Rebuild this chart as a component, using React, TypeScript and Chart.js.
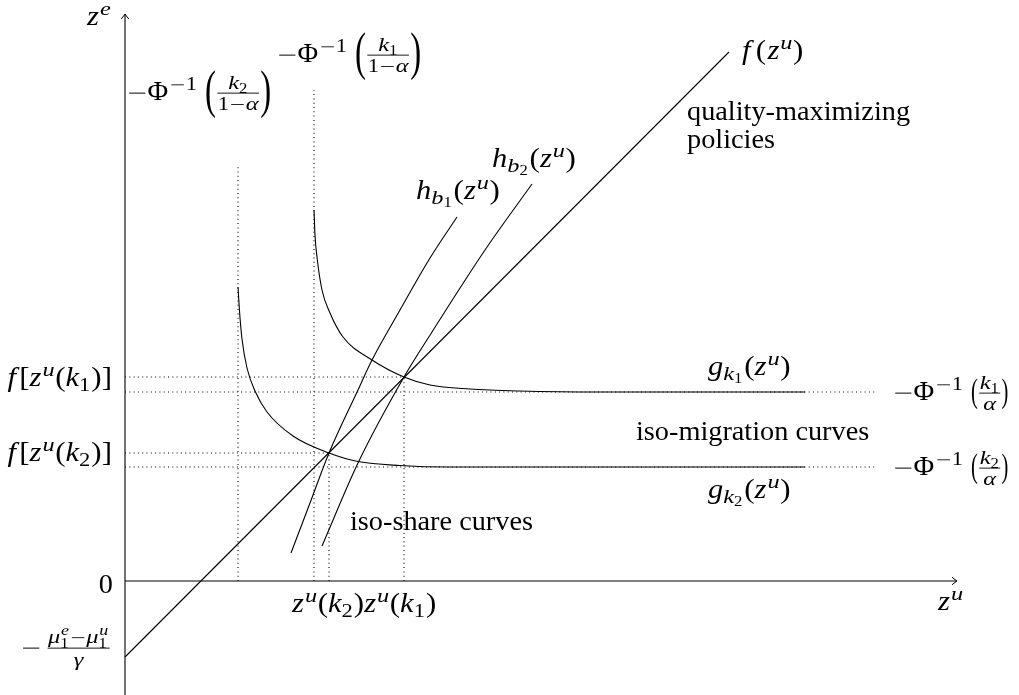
import React, { useEffect, useRef } from 'react';
import { Chart, registerables } from 'chart.js';
Chart.register(...registerables);

// ---------- data (abstract units) ----------
const X_MIN = -12.5, X_MAX = 89.4, Y_MIN = -11.4, Y_MAX = 58.1;

const xAxisX = [0, 83.2];
const xAxisY = [0, 0];
const yAxisX = [0, 0];
const yAxisY = [-11.4, 56.7];

const fX = [0, 60.4];
const fY = [-7.6, 52.9];

const gK1X = [18.9, 19.0, 19.2, 19.7, 20.5, 21.8, 24.7, 27.9, 30.5, 34.5, 39.5, 47.5, 68.0];
const gK1Y = [37.1, 34.6, 32.4, 29.1, 26.8, 24.4, 22.1, 20.4, 19.6, 19.2, 19.0, 18.9, 18.9];

const gK2X = [11.3, 11.45, 11.7, 12.2, 13.0, 14.2, 16.8, 20.4, 23.3, 27.5, 32.5, 40.0, 68.0];
const gK2Y = [29.4, 27.0, 24.2, 21.3, 19.0, 16.9, 14.5, 12.8, 11.95, 11.55, 11.4, 11.4, 11.4];

const hB1X = [16.6, 18.5, 20.4, 23.3, 24.7, 27.5, 30.5, 33.2];
const hB1Y = [2.8, 7.8, 12.8, 19.1, 22.1, 27.1, 32.3, 36.4];

const hB2X = [19.7, 23.3, 27.9, 30.7, 36.0, 40.7];
const hB2Y = [3.5, 11.8, 20.4, 24.9, 33.1, 39.7];

// dotted guide lines: [x1, y1, x2, y2]
const guideH1 = [0, 20.4, 27.9, 20.4];
const guideH2 = [0, 18.9, 75.0, 18.9];
const guideH3 = [0, 12.8, 20.4, 12.8];
const guideH4 = [0, 11.4, 75.0, 11.4];
const guideV1 = [11.3, 0, 11.3, 41.6];
const guideV2 = [18.9, 0, 18.9, 49.1];
const guideV3 = [20.4, 0, 20.4, 12.8];
const guideV4 = [27.9, 0, 27.9, 20.4];

// ---------- math text rendering ----------
const FONT = '"Liberation Serif", "DejaVu Serif", serif';
const S = 26.5;
const AXIS = 0.26;
const SCRIPT = 0.74;

type MNode =
  | { k: 't'; s: string; it?: boolean }
  | { k: 'sup'; n: MNode[] }
  | { k: 'sub'; n: MNode[] }
  | { k: 'ss'; p: MNode[]; b: MNode[] }
  | { k: 'frac'; a: MNode[]; b: MNode[]; nu: number; dd: number }
  | { k: 'par'; s: string; h: number }
  | { k: 'minus' }
  | { k: 'sp'; w: number };

const t = (s: string): MNode => ({ k: 't', s });
const i = (s: string): MNode => ({ k: 't', s, it: true });
const sup = (...n: MNode[]): MNode => ({ k: 'sup', n });
const sub = (...n: MNode[]): MNode => ({ k: 'sub', n });
const ss = (p: MNode[], b: MNode[]): MNode => ({ k: 'ss', p, b });
const frac = (a: MNode[], b: MNode[], nu = 0.15, dd = 0.62): MNode => ({ k: 'frac', a, b, nu, dd });
const par = (s: string, h: number): MNode => ({ k: 'par', s, h });
const minus = (): MNode => ({ k: 'minus' });
const sp = (w: number): MNode => ({ k: 'sp', w });

function stretchFor(s: string, it: boolean | undefined, size: number) {
  let st = it ? 1.15 : /^[()\[\]]+$/.test(s) ? 1.17 : 1.067;
  if (size < S * 0.9) st *= 1.08;
  return st;
}

function run(ctx: CanvasRenderingContext2D, nodes: MNode[], size: number, x: number, y: number, draw: boolean): number {
  let cx = x;
  for (const n of nodes) {
    if (n.k === 't') {
      ctx.font = `${n.it ? 'italic ' : ''}${size}px ${FONT}`;
      const st = stretchFor(n.s, n.it, size);
      const w = ctx.measureText(n.s).width * st;
      if (draw) {
        ctx.save();
        ctx.translate(cx, y);
        ctx.scale(st, 1);
        ctx.fillText(n.s, 0, 0);
        ctx.restore();
      }
      cx += w;
    } else if (n.k === 'sup') {
      cx += run(ctx, n.n, size * SCRIPT, cx + size * 0.04, y - size * 0.38, draw) + size * 0.06;
    } else if (n.k === 'sub') {
      cx += run(ctx, n.n, size * SCRIPT, cx, y + size * 0.18, draw) + size * 0.04;
    } else if (n.k === 'ss') {
      const w1 = run(ctx, n.p, size * SCRIPT, cx + size * 0.04, y - size * 0.38, draw) + size * 0.04;
      const w2 = run(ctx, n.b, size * SCRIPT, cx, y + size * 0.25, draw);
      cx += Math.max(w1, w2) + size * 0.04;
    } else if (n.k === 'frac') {
      const fs = size * SCRIPT;
      const wa = run(ctx, n.a, fs, 0, 0, false);
      const wb = run(ctx, n.b, fs, 0, 0, false);
      const pad = size * 0.05;
      const inner = Math.max(wa, wb) + size * 0.04;
      const W = inner + 2 * pad;
      const bar = y - size * AXIS;
      if (draw) {
        run(ctx, n.a, fs, cx + pad + (inner - wa) / 2, bar - size * n.nu, true);
        run(ctx, n.b, fs, cx + pad + (inner - wb) / 2, bar + size * n.dd, true);
        ctx.fillRect(cx + pad, bar - 0.45, inner, 0.9);
      }
      cx += W;
    } else if (n.k === 'par') {
      const F = size * n.h;
      ctx.font = `${F}px ${FONT}`;
      const sx = 0.62;
      const w = ctx.measureText(n.s).width * sx;
      if (draw) {
        ctx.save();
        ctx.translate(cx, y - size * AXIS + 0.255 * F);
        ctx.scale(sx, 1);
        ctx.fillText(n.s, 0, 0);
        ctx.restore();
      }
      cx += w;
    } else if (n.k === 'minus') {
      const small = size < S * 0.9;
      const w = size * (small ? 0.84 : 0.778);
      const side = size * (small ? 0.1 : 0.083);
      if (draw) {
        const th = Math.max(0.85, size * 0.037);
        ctx.fillRect(cx + side, y - size * AXIS - th / 2, w - 2 * side, th);
      }
      cx += w;
    } else if (n.k === 'sp') {
      cx += n.w * size;
    }
  }
  return cx - x;
}

const zu = (): MNode[] => [i('z'), sup(i('u'))];
const phiInv = (k: string, den: MNode[], h: number): MNode[] => [
  minus(), t('Φ'), sup(minus(), t('1')), sp(0.28), par('(', h), frac([i('k'), sub(t(k))], den), par(')', h),
];

type Label = { x: number; y: number; nodes: MNode[]; align?: 'left' | 'right' };

const LABELS: Label[] = [
  { x: -3.8, y: 55.6, nodes: [i('z'), sup(i('e'))] },
  { x: 81.3, y: -2.9, nodes: zu() },
  { x: -1.2, y: -1.2, nodes: [t('0')], align: 'right' },
  {
    x: -1.4, y: -7.4, align: 'right',
    nodes: [minus(), sp(0.18), frac([i('μ'), ss([i('e')], [t('1')]), minus(), i('μ'), ss([i('u')], [t('1')])], [i('γ')], 0.2, 0.66)],
  },
  { x: -1.3, y: 19.5, align: 'right', nodes: [i('f'), sp(0.12), t('['), ...zu(), t('('), i('k'), sub(t('1')), t(')]')] },
  { x: -1.3, y: 12.0, align: 'right', nodes: [i('f'), sp(0.12), t('['), ...zu(), t('('), i('k'), sub(t('2')), t(')]')] },
  { x: 0.2, y: 48.1, nodes: phiInv('2', [t('1'), minus(), i('α')], 2.0) },
  { x: 15.2, y: 51.9, nodes: phiInv('1', [t('1'), minus(), i('α')], 2.0) },
  { x: 61.7, y: 52.2, nodes: [i('f'), sp(0.2), t('('), sp(0.05), ...zu(), t(')')] },
  { x: 56.2, y: 46.1, nodes: [t('quality-maximizing')] },
  { x: 56.2, y: 43.3, nodes: [t('policies')] },
  { x: 36.7, y: 41.4, nodes: [i('h'), sub(i('b'), sub(t('2'))), t('('), ...zu(), t(')')] },
  { x: 29.1, y: 38.2, nodes: [i('h'), sub(i('b'), sub(t('1'))), t('('), ...zu(), t(')')] },
  { x: 58.3, y: 20.6, nodes: [i('g'), sub(i('k'), sub(t('1'))), t('('), ...zu(), t(')')] },
  { x: 51.1, y: 14.1, nodes: [t('iso-migration curves')] },
  { x: 58.3, y: 8.3, nodes: [i('g'), sub(i('k'), sub(t('2'))), t('('), ...zu(), t(')')] },
  { x: 76.8, y: 18.1, nodes: phiInv('1', [i('α')], 1.25) },
  { x: 76.8, y: 10.6, nodes: phiInv('2', [i('α')], 1.25) },
  {
    x: 16.7, y: -3.1,
    nodes: [...zu(), t('('), i('k'), sub(t('2')), t(')'), ...zu(), t('('), i('k'), sub(t('1')), t(')')],
  },
  { x: 22.5, y: 5.1, nodes: [t('iso-share curves')] },
];

const pts = (xs: number[], ys: number[]) => xs.map((x, k) => ({ x, y: ys[k] }));
const seg = (g: number[]) => [{ x: g[0], y: g[1] }, { x: g[2], y: g[3] }];

const overlayPlugin = {
  id: 'overlay',
  afterDatasetsDraw(chart: any) {
    const ctx: CanvasRenderingContext2D = chart.ctx;
    const xs = chart.scales.x;
    const ys = chart.scales.y;
    ctx.save();
    ctx.strokeStyle = '#000';
    ctx.lineWidth = 1;
    const arrow = (X: number, Y: number, dir: 'r' | 'u') => {
      const px = xs.getPixelForValue(X);
      const py = ys.getPixelForValue(Y);
      ctx.beginPath();
      if (dir === 'r') {
        ctx.moveTo(px - 5, py - 3.8);
        ctx.quadraticCurveTo(px - 1.5, py - 0.8, px, py);
        ctx.quadraticCurveTo(px - 1.5, py + 0.8, px - 5, py + 3.8);
      } else {
        ctx.moveTo(px - 3.8, py + 5);
        ctx.quadraticCurveTo(px - 0.8, py + 1.5, px, py);
        ctx.quadraticCurveTo(px + 0.8, py + 1.5, px + 3.8, py + 5);
      }
      ctx.stroke();
    };
    arrow(xAxisX[1], xAxisY[1], 'r');
    arrow(yAxisX[1], yAxisY[1], 'u');
    ctx.fillStyle = '#000';
    ctx.textBaseline = 'alphabetic';
    ctx.textAlign = 'left';
    for (const L of LABELS) {
      let px = xs.getPixelForValue(L.x);
      const py = ys.getPixelForValue(L.y);
      if (L.align === 'right') px -= run(ctx, L.nodes, S, 0, 0, false);
      run(ctx, L.nodes, S, px, py, true);
    }
    ctx.restore();
  },
};

export default function App() {
  const ref = useRef<HTMLCanvasElement>(null);
  useEffect(() => {
    const canvas = ref.current!;
    const solid = (data: any[], curved = false) => ({
      data,
      borderColor: '#000',
      borderWidth: 1.1,
      pointRadius: 0,
      fill: false,
      showLine: true,
      cubicInterpolationMode: curved ? 'monotone' : 'default',
      tension: 0,
    });
    const dotted = (data: any[]) => ({
      data,
      borderColor: '#000',
      borderWidth: 1.1,
      borderDash: [1, 3.3],
      pointRadius: 0,
      fill: false,
      showLine: true,
      tension: 0,
    });
    const chart = new Chart(canvas, {
      type: 'scatter',
      data: {
        datasets: [
          dotted(seg(guideH1)),
          dotted(seg(guideH2)),
          dotted(seg(guideH3)),
          dotted(seg(guideH4)),
          dotted(seg(guideV1)),
          dotted(seg(guideV2)),
          dotted(seg(guideV3)),
          dotted(seg(guideV4)),
          solid(pts(xAxisX, xAxisY)),
          solid(pts(yAxisX, yAxisY)),
          solid(pts(fX, fY)),
          solid(pts(gK1X, gK1Y), true),
          solid(pts(gK2X, gK2Y), true),
          solid(pts(hB1X, hB1Y), true),
          solid(pts(hB2X, hB2Y), true),
        ] as any,
      },
      options: {
        responsive: false,
        animation: false,
        devicePixelRatio: 1,
        layout: { padding: 0 },
        events: [],
        plugins: { legend: { display: false }, tooltip: { enabled: false } },
        scales: {
          x: { type: 'linear', min: X_MIN, max: X_MAX, display: false },
          y: { type: 'linear', min: Y_MIN, max: Y_MAX, display: false },
        },
      } as any,
      plugins: [overlayPlugin],
    });
    return () => chart.destroy();
  }, []);
  return (
    <div style={{ position: 'absolute', left: 0, top: 0, width: 1019, height: 695, background: '#fff' }}>
      <canvas ref={ref} width={1019} height={695} style={{ display: 'block' }} />
    </div>
  );
}
